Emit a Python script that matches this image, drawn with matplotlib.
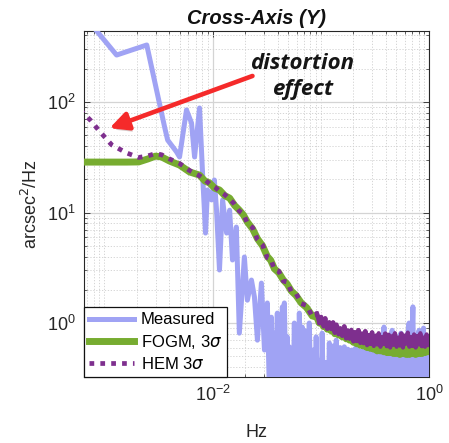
"""Cross-axis (Y) PSD: measured vs FOGM and HEM 3-sigma bounds."""
import matplotlib.pyplot as plt
import matplotlib.patheffects as pe
from matplotlib.ticker import LogLocator, NullFormatter

plt.rcParams['font.family'] = ['Liberation Sans', 'DejaVu Sans']
plt.rcParams['mathtext.fontset'] = 'dejavusans'

# ---- data ----
f_meas = [6.2e-4, 1.30e-3, 2.47e-3, 3.61e-3, 3.85e-3, 4.66e-3, 4.96e-3, 5.75e-3, 6.40e-3,
          6.83e-3, 7.59e-3, 8.09e-3, 8.62e-3, 8.99e-3, 9.79e-3, 0.0104, 0.0109, 0.0116,
          0.0124, 0.0135, 0.0144, 0.0153, 0.0166, 0.0177, 0.0197, 0.0210, 0.0229, 0.0244,
          0.0260, 0.0283, 0.0302, 0.0321, 0.0335, 0.0350, 0.0362, 0.0373, 0.0385, 0.0397,
          0.0405, 0.0414, 0.0428, 0.0442, 0.0450, 0.0461, 0.0475, 0.0491, 0.0500, 0.0512,
          0.0525, 0.0535, 0.0550, 0.0570, 0.0588, 0.0607, 0.0620, 0.0634, 0.0655, 0.0675,
          0.0690, 0.0705, 0.0730, 0.0752, 0.0765, 0.0783, 0.082, 0.0853, 0.088, 0.0907,
          0.094, 0.0967, 0.100, 0.103, 0.107, 0.112, 0.116, 0.120, 0.125, 0.130, 0.135,
          0.139, 0.145, 0.151, 0.158, 0.165, 0.172, 0.178, 0.186, 0.194, 0.202, 0.211,
          0.220, 0.229, 0.239, 0.249, 0.260, 0.270, 0.282, 0.294, 0.306, 0.318, 0.332,
          0.346, 0.360, 0.372, 0.384, 0.396, 0.410, 0.425, 0.440, 0.457, 0.475, 0.494,
          0.512, 0.530, 0.550, 0.570, 0.590, 0.610, 0.633, 0.655, 0.675, 0.695, 0.710,
          0.730, 0.750, 0.770, 0.790, 0.810, 0.830, 0.850, 0.870, 0.890, 0.910, 0.930,
          0.950, 0.970, 0.985, 1.0]
measured = [639, 266, 328, 59.4, 45.3, 35.3, 31.8, 84.7, 64.6,
            31.8, 88.3, 22.8, 6.52, 16.0, 13.0, 19.7, 10.5, 3.02,
            13.0, 6.52, 10.5, 3.72, 7.39, 0.81, 3.96, 1.61, 2.45, 1.72,
            0.70, 2.30, 0.57, 1.52, 0.25, 1.13, 0.15, 0.81, 0.30, 1.23,
            0.12, 0.46, 0.20, 1.40, 0.15, 1.52, 0.30, 0.75, 0.20, 0.61,
            0.25, 0.20, 0.10, 1.00, 0.15, 0.70, 0.12, 1.23, 0.18, 0.92,
            0.10, 0.86, 0.20, 0.49, 0.12, 1.00, 0.15, 0.57, 0.10, 0.75,
            0.15, 0.46, 0.10, 0.81, 0.12, 0.44, 0.10, 0.66, 0.12, 0.62, 0.10,
            0.70, 0.15, 0.60, 0.10, 0.61, 0.12, 0.58, 0.10, 0.57, 0.15, 0.60,
            0.10, 0.56, 0.12, 0.58, 0.10, 0.55, 0.15, 0.57, 0.10, 0.56, 0.12,
            0.58, 0.10, 0.60, 0.92, 0.12, 0.62, 0.10, 0.70, 0.86, 0.12, 0.65,
            0.10, 0.72, 0.81, 0.12, 0.66, 0.10, 0.75, 1.00, 0.15, 0.70, 1.40,
            0.10, 0.72, 0.12, 0.70, 0.86, 0.10, 0.75, 0.12, 0.90, 0.10, 0.72,
            0.15, 0.70, 0.10, 0.70]

f_model = [6.0e-4, 7.5e-4, 9.1e-4, 1.17e-3, 1.61e-3, 2.08e-3, 2.52e-3, 2.98e-3, 3.39e-3,
           4.02e-3, 4.96e-3, 6.14e-3, 7.59e-3, 8.5e-3, 9.39e-3, 0.0105, 0.0116, 0.013,
           0.0144, 0.016, 0.0177, 0.0193, 0.021, 0.0235, 0.026, 0.029, 0.0321, 0.0345,
           0.0373, 0.041, 0.0451, 0.049, 0.0535, 0.059, 0.0661, 0.074, 0.0835,
           0.092, 0.097, 0.101, 0.106, 0.11, 0.115, 0.12, 0.125, 0.13, 0.135, 0.14,
           0.146, 0.152, 0.158, 0.165, 0.172, 0.178, 0.185, 0.192, 0.2, 0.207, 0.215,
           0.223, 0.232, 0.24, 0.249, 0.258, 0.268, 0.277, 0.288, 0.298, 0.309, 0.32,
           0.332, 0.343, 0.356, 0.368, 0.382, 0.395, 0.409, 0.423, 0.438, 0.453, 0.469,
           0.485, 0.502, 0.52, 0.538, 0.556, 0.575, 0.595, 0.616, 0.637, 0.659, 0.681,
           0.705, 0.728, 0.753, 0.778, 0.805, 0.832, 0.86, 0.889, 0.919, 0.95, 0.975, 1.0]
fogm = [28.6, 28.6, 28.6, 28.6, 28.6, 28.7, 30.5, 32.4, 31.8,
        29.2, 26.9, 23.3, 21.8, 19.3, 18.5, 16.6, 16.0, 14.2,
        13.5, 11.6, 10.5, 9.5, 8.2, 7.1, 5.8, 5.0, 4.0, 3.7,
        3.1, 2.85, 2.45, 2.25, 1.95, 1.78, 1.52, 1.38, 1.16,
        1.13, 1.00, 1.04, 0.93, 0.98, 0.88, 0.95, 0.85, 0.90, 0.80, 0.86,
        0.78, 0.84, 0.75, 0.80, 0.72, 0.78, 0.70, 0.75, 0.67, 0.73, 0.65,
        0.71, 0.63, 0.69, 0.62, 0.67, 0.60, 0.66, 0.59, 0.65, 0.58, 0.63,
        0.56, 0.62, 0.56, 0.61, 0.55, 0.61, 0.54, 0.60, 0.54, 0.60, 0.53,
        0.59, 0.53, 0.60, 0.52, 0.59, 0.53, 0.60, 0.52, 0.59, 0.52, 0.60,
        0.53, 0.59, 0.52, 0.60, 0.53, 0.60, 0.53, 0.61, 0.54, 0.61, 0.55, 0.60]
hem = [85, 68, 54, 41, 34.6, 31.5, 32.5, 34.2, 33.3,
       30.5, 27.8, 24.0, 21.5, 19.8, 18.2, 17.0, 15.6, 14.5,
       13.2, 11.9, 10.3, 9.7, 8.0, 7.3, 5.7, 5.1, 3.9, 3.8,
       3.05, 2.95, 2.4, 2.35, 1.92, 1.86, 1.50, 1.44, 1.15,
       1.22, 1.00, 1.14, 0.93, 1.10, 0.89, 1.02, 0.88, 1.01, 0.82, 0.97,
       0.79, 0.90, 0.77, 0.93, 0.73, 0.86, 0.72, 0.87, 0.68, 0.83, 0.69,
       0.86, 0.66, 0.80, 0.66, 0.84, 0.63, 0.78, 0.65, 0.82, 0.62, 0.77,
       0.64, 0.81, 0.61, 0.75, 0.65, 0.80, 0.62, 0.78, 0.60, 0.76, 0.64,
       0.81, 0.61, 0.74, 0.63, 0.80, 0.60, 0.77, 0.65, 0.82, 0.61, 0.75,
       0.62, 0.79, 0.60, 0.76, 0.64, 0.81, 0.62, 0.74, 0.61, 0.79, 0.63, 0.76]

arrow_tail = (0.0234, 172)
arrow_tip = (1.12e-3, 58)

# ---- figure ----
fig = plt.figure(figsize=(4.49, 4.43), dpi=100)
ax = fig.add_axes([84 / 449, 1 - 377 / 443, 345 / 449, 346 / 443])

ax.plot(f_meas, measured, color='#A0A3F4', lw=3.6, label='Measured', zorder=3)
ax.plot(f_model, fogm, color='#77AC30', lw=5, label='FOGM, 3$\\sigma$', zorder=4)
# the dense, noisy high-frequency stretch of the dotted HEM curve renders as a solid band
hi = [i for i, f in enumerate(f_model) if f >= 0.092]
ax.plot([f_model[i] for i in hi], [hem[i] for i in hi], color='#7E2F8E', lw=3.0, zorder=5)
ax.plot(f_model, hem, color='#7E2F8E', lw=3.4, linestyle=(0, (1, 1.3)),
        dash_capstyle='butt', label='HEM 3$\\sigma$', zorder=5)

ax.set_xscale('log')
ax.set_yscale('log')
ax.set_xlim(6.5e-4, 1.0)
ax.set_ylim(0.325, 439)

ax.set_xticks([1e-2, 1])
ax.xaxis.set_minor_locator(LogLocator(base=10, subs=(1, 2, 3, 4, 5, 6, 7, 8, 9), numticks=20))
ax.xaxis.set_minor_formatter(NullFormatter())
ax.set_yticks([1, 10, 100])
ax.yaxis.set_minor_locator(LogLocator(base=10, subs=(2, 3, 4, 5, 6, 7, 8, 9), numticks=20))
ax.yaxis.set_minor_formatter(NullFormatter())

ax.grid(True, which='major', color='#d4d4d4', lw=0.9, ls='-')
ax.grid(True, which='minor', color='#cfcfcf', lw=0.6, ls=(0, (1.5, 2)))
ax.set_axisbelow(True)

ax.tick_params(which='both', direction='in', top=True, right=True,
               colors='#262626', labelsize=13, pad=6)
ax.tick_params(which='major', length=4, width=0.6)
ax.tick_params(which='minor', length=2, width=0.5)
for sp in ax.spines.values():
    sp.set_color('#262626')
    sp.set_linewidth(0.8)

ax.set_title('Cross-Axis (Y)', fontsize=14.5, fontweight='bold', style='italic',
             color='#111111', pad=5)
ax.set_xlabel('Hz', fontsize=13, color='#262626')
ax.set_ylabel('arcsec$^2$/Hz', fontsize=13, color='#262626')
ax.xaxis.set_label_coords(0.5, -0.135)
ax.yaxis.set_label_coords(-0.125, 0.5)

leg = ax.legend(loc='lower left', bbox_to_anchor=(0, 0), borderaxespad=0,
                fontsize=12, handlelength=2.7, handletextpad=0.4, labelspacing=0.32,
                borderpad=0.3, fancybox=False, framealpha=1, edgecolor='#111111')
leg.get_frame().set_linewidth(0.9)
leg.set_zorder(10)

# annotation
ax.annotate('', xy=arrow_tip, xytext=arrow_tail, zorder=8,
            arrowprops=dict(arrowstyle='-|>,head_length=0.85,head_width=0.42',
                            color='#F52A2A', lw=3.3, mutation_scale=13,
                            shrinkA=0, shrinkB=0,
                            path_effects=[pe.SimplePatchShadow(offset=(1, -2.5), alpha=0.22),
                                          pe.Normal()]))
ax.text(0.633, 0.905, 'distortion', transform=ax.transAxes, ha='center', va='center',
        fontsize=16, fontweight='bold', style='italic', family='Open Sans', color='#151515')
ax.text(0.633, 0.83, 'effect', transform=ax.transAxes, ha='center', va='center',
        fontsize=16, fontweight='bold', style='italic', family='Open Sans', color='#151515')

fig.savefig('out.png', dpi=100)
